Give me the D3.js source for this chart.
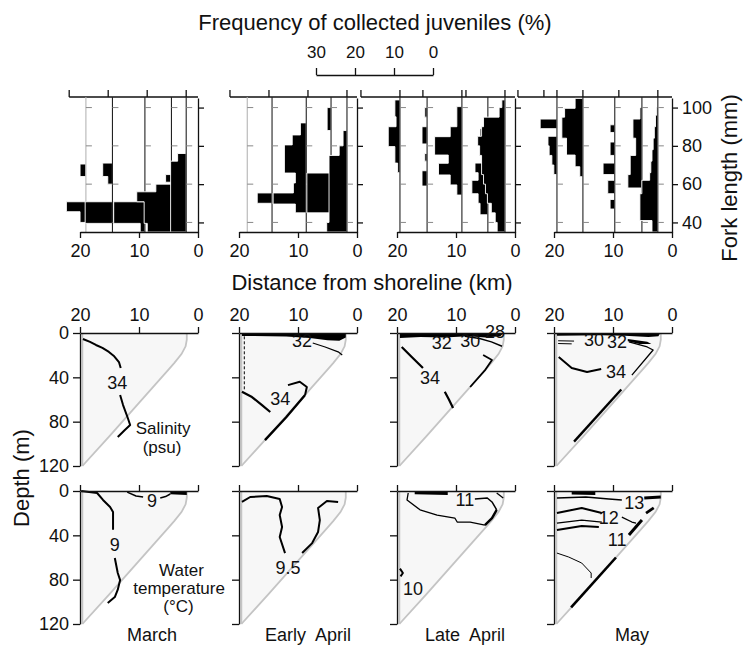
<!DOCTYPE html>
<html lang="en">
<head>
<meta charset="UTF-8">
<title>Juvenile frequency and hydrographic sections</title>
<script src="https://d3js.org/d3.v7.min.js"></script>
<style>
  body { margin: 0; background: #fff; }
  svg text { font-family: 'Liberation Sans', Arial, Helvetica, sans-serif; fill: #111; }
</style>
</head>
<body>
<svg id="fig" width="744" height="647"></svg>
<script>
// ---- data ----
const months = ['March', 'Early  April', 'Late  April', 'May'];
const kmTicks = [20, 10, 0];
const flTicks = [40, 60, 80, 100];
const depthTicks = [0, 40, 80, 120];
const freqTicks = [30, 20, 10, 0];

// stations: distance from shore (km), bins [fork length from, to (mm), frequency %]
const histMar = [
  { km: 19, bins: [[40, 45.6, 1.5], [45.6, 50.8, 5], [64, 70.5, 1.5]] },
  { km: 14.5, bins: [[39.5, 50.8, 7], [60, 64, 1.2], [64, 71, 2.5]] },
  { km: 9, bins: [[35, 39.5, 1.2], [39.5, 50.8, 8]] },
  { km: 4.5, bins: [[35, 39.5, 6.2], [39.5, 50.8, 7], [50.8, 56, 8.9], [56, 60, 4], [61, 65, 1.5]] },
  { km: 2, bins: [[35, 72, 4], [72, 76, 2.2]] }
];
const histEA = [
  { km: 18.6, bins: [] },
  { km: 14.4, bins: [[50, 55.4, 3.8]] },
  { km: 8.6, bins: [[45, 49.6, 2.8], [49.6, 55.4, 8.5], [55.4, 60.6, 3.3], [60.6, 65.8, 2.8], [65.8, 80.5, 5.6], [80.5, 85.7, 3.6], [85.7, 92, 1.5]] },
  { km: 4.4, bins: [[45, 65.8, 6.2], [88, 100, 1]] },
  { km: 1.7, bins: [[35, 40, 5.2], [40, 75, 4.6], [75, 80, 2], [80, 88, 1]] }
];
const histLA = [
  { km: 19.5, bins: [[66, 71, 0.6], [71, 79.6, 1.3], [79.6, 90, 3], [90, 95.2, 1], [95.2, 104, 1.3]] },
  { km: 14.9, bins: [[59, 67, 1.3], [72, 76, 0.6], [81, 90, 1.3], [95, 100, 0.6]] },
  { km: 9, bins: [[54.3, 59.6, 1.3], [59.6, 64.8, 3], [64.8, 70.9, 6], [70.9, 75.2, 3.5], [75.2, 84.8, 7], [84.8, 90, 3], [90, 100.5, 1.3]] },
  { km: 4.6, bins: [[44, 50, 2], [50, 55, 2.5], [55, 62, 4.1], [62, 66, 2.5], [66, 71, 3.3], [76, 80, 1.5], [84, 89, 2]] },
  { km: 1.7, bins: [[35, 40, 2], [40, 45, 2.5], [45, 50, 3.5], [50, 55, 4.5], [55, 60, 5], [60, 65, 5.5], [65, 70, 6], [70, 75, 6], [75, 80, 6.5], [80, 85, 7], [85, 90, 6], [90, 95, 5.5], [95, 100, 1.5], [100, 104, 0.8]] }
];
const histMay = [
  { km: 19.5, bins: [[65, 70, 0.8], [70, 75, 1.3], [75, 80, 2], [80, 85, 2.3], [89, 94, 4.3]] },
  { km: 15.1, bins: [[63.9, 69.1, 0.8], [69.1, 75.2, 2], [75.2, 84, 4.2], [84, 95, 5.4], [95, 99.6, 4.7], [99.6, 104.8, 2]] },
  { km: 9.7, bins: [[47, 52, 1.2], [55, 62, 1.8], [65, 71, 3], [75, 82, 1.2], [87, 91, 1.2]] },
  { km: 5.1, bins: [[58, 65, 3.6], [65, 75, 3], [75, 84, 1.6], [84, 94, 2.3], [94, 100, 0.5]] },
  { km: 2.4, bins: [[35, 41, 1.5], [41, 55, 4.6], [55, 62, 4.1], [62, 66, 2.1], [66, 72, 1.8], [72, 78, 1.5], [78, 84, 1.2], [84, 90, 0.9], [90, 96, 0.6], [96, 100, 0.3]] }
];
// frequency scale bars along the top of each panel: station km, max %
const topScales = [
  [{ km: 2, max: 30 }],
  [{ km: 1.7, max: 30 }],
  [{ km: 19.5, max: 10 }, { km: 9, max: 10 }, { km: 1.7, max: 10 }],
  [{ km: 19.5, max: 10 }, { km: 15.1, max: 10 }, { km: 2.4, max: 10 }]
];

// bottom profile [km, depth m]
const bathy = [[1.9, 0], [1.9, 6], [2.1, 12], [2.8, 19], [4, 27], [5, 33], [10, 63], [15, 93], [19.6, 120]];

// salinity sections
const salMar = {
  fills: [],
  lines: [
    { w: 2, pts: [[19.5, 5.4], [18.3, 8], [17.3, 10.8], [16.2, 13.5], [15.1, 17.1], [14.2, 21], [13.4, 26.2], [13.1, 31.6]] },
    { w: 2, pts: [[13.2, 56], [12.7, 65], [11.9, 76.7], [11.5, 83], [12.4, 87.5], [13.6, 93.9]] }
  ],
  labels: [['34', 13.7, 45]],
  notes: [['Salinity', 5.9, 86], ['(psu)', 6.1, 103]]
};
const salEA = {
  fills: [[[19.5, 0], [1.9, 0], [1.9, 4], [3, 7], [5, 6.5], [8, 4.5], [12, 3.2], [19.5, 2.6]]],
  lines: [
    { w: 1, dash: '3,2', pts: [[19.1, 3], [19.1, 51]] },
    { w: 1.2, pts: [[7.5, 9], [5.4, 12.6], [3.2, 17], [2.5, 19.9]] },
    { w: 2.2, pts: [[19.5, 53], [17.8, 57.8], [16.1, 65], [14.7, 71.3]] },
    { w: 2, pts: [[11.7, 47], [9.7, 44], [8.5, 48.7], [8.8, 56]] },
    { w: 2.4, pts: [[8.8, 56], [12, 76], [15.6, 96.6]] }
  ],
  labels: [['32', 9.3, 7], ['34', 13, 58.7]],
  notes: []
};
const salLA = {
  fills: [[[19.5, 0], [1.9, 0], [2.5, 3], [5, 4], [8, 3], [12, 4], [16, 3.5], [19.5, 4.5]]],
  lines: [
    { w: 1.5, pts: [[8.5, 3], [6, 5], [4, 8], [2.2, 12]] },
    { w: 2.2, pts: [[19.2, 12.6], [17.5, 21.7], [15.6, 31.6]] },
    { w: 2.2, pts: [[11.9, 53], [11.2, 60], [10.5, 67.7]] },
    { w: 1.8, pts: [[5.4, 19.8], [3.9, 24.3], [5, 33], [7.6, 48.7]] }
  ],
  labels: [['32', 12.4, 9], ['30', 7.6, 7.2], ['28', 3.4, -1.5], ['34', 14.4, 40.6]],
  notes: []
};
const salMay = {
  fills: [[[19.5, 0], [2, 0], [2.3, 3], [4, 3.5], [8, 2.5], [12, 2], [19.5, 2.5]], [[7.5, 5.5], [4.2, 8], [3.5, 10], [5.5, 10], [7.5, 7.5]]],
  lines: [
    { w: 1, pts: [[19.3, 7], [16.6, 7.3]] },
    { w: 1, pts: [[19.3, 9.5], [17, 9.8]] },
    { w: 1.3, pts: [[7.3, 8], [4.2, 12.6], [3.2, 15.3], [6.8, 38]] },
    { w: 2, pts: [[19.2, 21.7], [18, 27], [17, 31.6], [14.4, 35.2], [12, 32.5]] },
    { w: 2.4, pts: [[8.6, 51], [16.6, 98]] }
  ],
  labels: [['30', 13.2, 6.3], ['32', 9.3, 8], ['34', 9.5, 35.2]],
  notes: []
};

// water temperature sections
const tmpMar = {
  fills: [[[4.7, 0.8], [1.9, 0.8], [1.9, 3.6], [4.7, 3]]],
  lines: [
    { w: 2, pts: [[19.8, 0], [17.1, 1.8], [16.1, 8.1], [14.9, 14.4], [14.4, 19], [14.4, 35]] },
    { w: 2, pts: [[14.1, 60.5], [13.6, 74], [13.2, 80.4], [13.6, 89], [14.1, 95.7], [15.3, 101]] },
    { w: 1.5, pts: [[12, 1], [10.5, 4.5], [9.3, 5.4]] },
    { w: 1.5, pts: [[6.4, 6.3], [5.5, 5], [4.7, 2.7]] }
  ],
  labels: [['9', 7.8, 9], ['9', 14.1, 48.7]],
  notes: [['Water', 2.8, 71.5], ['temperature', 3.2, 87.5], ['(°C)', 3.3, 104]]
};
const tmpEA = {
  fills: [],
  lines: [
    { w: 2, pts: [[19.5, 9.9], [18.1, 5.4], [15.3, 4.5], [13.1, 7.2], [12.7, 14.4], [13.1, 21.7], [12.7, 32.5], [13.1, 41.5], [12.2, 56]] },
    { w: 2, pts: [[3.2, 9.9], [5.1, 9], [6.6, 15.3], [6.3, 26.2], [6.6, 37], [7.6, 47], [9.3, 56]] }
  ],
  labels: [['9.5', 11.7, 68.6]],
  notes: []
};
const tmpLA = {
  fills: [[[17, 0.5], [11.4, 0.8], [11.4, 3.6], [17, 3]]],
  lines: [
    { w: 1.3, pts: [[18.1, 1.8], [18.3, 8.1], [16.1, 17], [13.2, 21.7], [10.2, 24.4], [9.8, 28], [7.6, 28], [5.1, 30.7]] },
    { w: 2.4, pts: [[5.1, 30.7], [3.9, 24.4], [3.1, 17]] },
    { w: 1.5, pts: [[3.1, 17], [3.9, 9.9], [4.7, 6.3], [6.8, 7.2]] },
    { w: 1.3, pts: [[3.1, 1.8], [2, 6.3]] },
    { w: 2, pts: [[19.5, 70], [19, 74], [19.4, 77]] }
  ],
  labels: [['11', 8.5, 8.1], ['10', 17.3, 88.4]],
  notes: []
};
const tmpMay = {
  fills: [[[17, 0], [13, 0], [13, 3.6], [17, 3.2]]],
  lines: [
    { w: 1.3, pts: [[19.5, 6.3], [14.6, 5.4], [10.7, 7.2], [8.5, 8.1]] },
    { w: 2.8, pts: [[4.7, 6.3], [1.9, 5.4]] },
    { w: 2.8, pts: [[4.4, 19.9], [3.1, 15.3]] },
    { w: 2, pts: [[19.5, 19.9], [15.3, 15.3], [11.9, 19.9]] },
    { w: 1.3, pts: [[19.5, 28.9], [15.3, 26.2], [11.9, 28]] },
    { w: 2, pts: [[19.5, 35.2], [15.3, 31.6], [12.4, 32.5]] },
    { w: 1.3, pts: [[8.5, 23.5], [6.8, 28], [6.1, 28.9]] },
    { w: 3, pts: [[5.1, 26.2], [7.3, 39.7]] },
    { w: 1, pts: [[19.5, 56], [17.5, 59.6], [15.3, 65], [13.7, 74], [13.7, 78.5]] },
    { w: 2.6, pts: [[9.5, 60], [17.1, 105]] }
  ],
  labels: [['13', 6.4, 10.8], ['12', 10.7, 23.5], ['11', 9.3, 44.2]],
  notes: []
};

const histPanels = [histMar, histEA, histLA, histMay];
const salPanels = [salMar, salEA, salLA, salMay];
const tmpPanels = [tmpMar, tmpEA, tmpLA, tmpMay];

// ---- layout ----
const FONT = "'Liberation Sans', Arial, Helvetica, sans-serif";
const svg = d3.select('#fig');
const panelLeft = [80, 239, 397, 554];
const panelW = 118;
const xs = panelLeft.map(l => d3.scaleLinear().domain([20, 0]).range([l, l + panelW]));
const yFL = d3.scaleLinear().domain([35, 105]).range([232, 98]);
const fw = d3.scaleLinear().domain([0, 30]).range([0, 117]);
const ySal = d3.scaleLinear().domain([0, 120]).range([333, 466]);
const yTmp = d3.scaleLinear().domain([0, 120]).range([491, 624]);

function styleAxis(g, size) {
  g.attr('font-size', size || 18).attr('font-family', FONT);
  g.selectAll('line, path').attr('stroke', '#111').attr('stroke-width', 1.3);
  g.selectAll('text').attr('fill', '#111');
}

// titles
svg.append('text').attr('x', 375).attr('y', 30).attr('text-anchor', 'middle')
  .attr('font-size', 22).text('Frequency of collected juveniles (%)');
svg.append('text').attr('x', 372).attr('y', 290).attr('text-anchor', 'middle')
  .attr('font-size', 22).text('Distance from shoreline (km)');
svg.append('text').attr('transform', 'translate(29,478) rotate(-90)').attr('text-anchor', 'middle')
  .attr('font-size', 22).text('Depth (m)');
svg.append('text').attr('transform', 'translate(737,178) rotate(-90)').attr('text-anchor', 'middle')
  .attr('font-size', 22).text('Fork length (mm)');

// frequency legend bar
const xLeg = d3.scaleLinear().domain([30, 0]).range([316, 433]);
const leg = svg.append('g').attr('transform', 'translate(0,75)')
  .call(d3.axisTop(xLeg).tickValues(freqTicks).tickSize(7).tickSizeOuter(0).tickPadding(10));
styleAxis(leg, 17);

// ---- histograms ----
function histPath(st, x) {
  const x0 = x(st.km);
  const bins = st.bins.slice().sort((a, b) => a[0] - b[0]);
  let p = '', last = null;
  bins.forEach(b => {
    const xl = x0 - fw(b[2]);
    if (last === null || Math.abs(b[0] - last) > 0.05) {
      if (last !== null) p += `L${x0},${yFL(last)}Z`;
      p += `M${x0},${yFL(b[0])}`;
    }
    p += `L${xl},${yFL(b[0])}L${xl},${yFL(b[1])}`;
    last = b[1];
  });
  if (last !== null) p += `L${x0},${yFL(last)}Z`;
  return p;
}

histPanels.forEach((stations, i) => {
  const x = xs[i];
  const g = svg.append('g');

  // top frequency scale
  const tks = [];
  topScales[i].forEach(s => d3.range(0, s.max + 1, 10).forEach(f => tks.push(x(s.km) - fw(f))));
  g.append('line').attr('x1', d3.min(tks)).attr('x2', x(0)).attr('y1', 97).attr('y2', 97)
    .attr('stroke', '#111').attr('stroke-width', 1.3);
  g.selectAll('.tt').data(tks).enter().append('line')
    .attr('x1', d => d).attr('x2', d => d).attr('y1', 97).attr('y2', 90)
    .attr('stroke', '#111').attr('stroke-width', 1.3);

  stations.slice().sort((a, b) => b.km - a.km).forEach(st => {
    g.append('path').attr('d', histPath(st, x)).attr('fill', '#000')
      .attr('stroke', '#fff').attr('stroke-width', 0.9);
    const xs0 = x(st.km);
    g.append('line').attr('x1', xs0).attr('x2', xs0).attr('y1', 97).attr('y2', 232)
      .attr('stroke', (i < 2 && st.km > 18) ? '#b5b5b5' : '#222').attr('stroke-width', 1.1);
    g.selectAll(null).data(flTicks).enter().append('line')
      .attr('x1', xs0).attr('x2', xs0 + 6).attr('y1', d => yFL(d)).attr('y2', d => yFL(d))
      .attr('stroke', '#888').attr('stroke-width', 1);
  });

  const ra = g.append('g').attr('transform', `translate(${x(0)},0)`)
    .call(d3.axisRight(yFL).tickValues(flTicks).tickSize(6).tickSizeOuter(0).tickPadding(4)
      .tickFormat(i === 3 ? d3.format('d') : () => ''));
  styleAxis(ra);

  const ba = g.append('g').attr('transform', 'translate(0,232)')
    .call(d3.axisBottom(x).tickValues(kmTicks).tickSize(6).tickSizeOuter(0).tickPadding(6));
  styleAxis(ba);
});

// ---- sections ----
function drawSection(sec, x, y, showTop, showLeft) {
  const g = svg.append('g');
  const line = d3.line().x(d => x(d[0])).y(d => y(d[1]));
  g.append('path').attr('d', line([[19.6, 0]].concat(bathy)) + 'Z').attr('fill', '#f7f7f7');
  g.append('path').attr('d', line([[19.6, 0], [19.6, 120]])).attr('fill', 'none')
    .attr('stroke', '#c4c4c4').attr('stroke-width', 1.8);
  g.append('path').attr('d', line(bathy)).attr('fill', 'none')
    .attr('stroke', '#c4c4c4').attr('stroke-width', 1.8);
  sec.fills.forEach(f => g.append('path').attr('d', line(f) + 'Z').attr('fill', '#000'));
  sec.lines.forEach(l => g.append('path').attr('d', line(l.pts)).attr('fill', 'none')
    .attr('stroke', '#000').attr('stroke-width', l.w).attr('stroke-linejoin', 'round')
    .attr('stroke-dasharray', l.dash || null));
  sec.labels.forEach(t => g.append('text').attr('x', x(t[1])).attr('y', y(t[2]))
    .attr('dy', '0.36em').attr('text-anchor', 'middle').attr('font-size', 18).text(t[0]));
  sec.notes.forEach(t => g.append('text').attr('x', x(t[1])).attr('y', y(t[2]))
    .attr('dy', '0.36em').attr('text-anchor', 'middle').attr('font-size', 17).text(t[0]));

  const ta = g.append('g').attr('transform', `translate(0,${y(0)})`)
    .call(d3.axisTop(x).tickValues(kmTicks).tickSize(6).tickSizeOuter(0).tickPadding(6)
      .tickFormat(showTop ? d3.format('d') : () => ''));
  styleAxis(ta);
  const la = g.append('g').attr('transform', `translate(${x(20)},0)`)
    .call(d3.axisLeft(y).tickValues(depthTicks).tickSize(7).tickSizeOuter(0).tickPadding(4)
      .tickFormat(showLeft ? d3.format('d') : () => ''));
  styleAxis(la);
}

salPanels.forEach((s, i) => drawSection(s, xs[i], ySal, true, i === 0));
tmpPanels.forEach((s, i) => drawSection(s, xs[i], yTmp, false, i === 0));

// month labels
const monthX = [152, 308, 465, 632];
svg.selectAll('.month').data(months).enter().append('text')
  .attr('x', (d, i) => monthX[i]).attr('y', 641).attr('text-anchor', 'middle')
  .attr('font-size', 18).style('white-space', 'pre').text(d => d);
</script>
</body>
</html>
